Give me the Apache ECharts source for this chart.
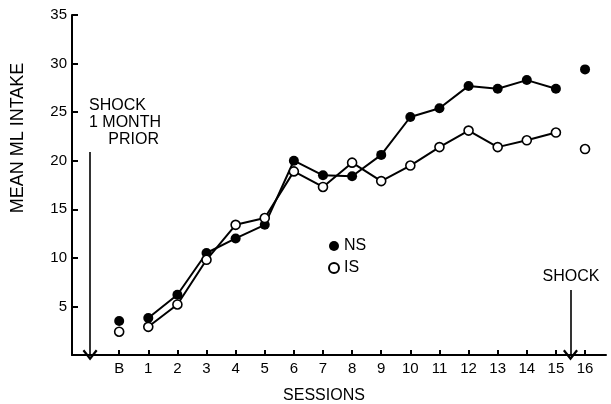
<!DOCTYPE html>
<html>
<head>
<meta charset="utf-8">
<script src="https://cdn.jsdelivr.net/npm/echarts@6/dist/echarts.min.js"></script>
<style>html,body{margin:0;padding:0;background:#fff}#c{width:611px;height:404px}</style>
</head>
<body>
<div id="c"></div>
<script>
// Session positions: 0 = baseline "B", 1..16 = sessions
var sessions = [0, 1, 2, 3, 4, 5, 6, 7, 8, 9, 10, 11, 12, 13, 14, 15, 16];
var sessionLabels = ['B', '1', '2', '3', '4', '5', '6', '7', '8', '9', '10', '11', '12', '13', '14', '15', '16'];
var nsValues = [3.5, 3.8, 6.2, 10.5, 12.0, 13.4, 20.0, 18.5, 18.4, 20.6, 24.5, 25.4, 27.7, 27.4, 28.3, 27.4, 29.4];
var isValues = [2.4, 2.9, 5.2, 9.8, 13.4, 14.1, 18.9, 17.3, 19.8, 17.9, 19.5, 21.4, 23.1, 21.4, 22.1, 22.9, 21.2];
var yTicks = [0, 5, 10, 15, 20, 25, 30, 35];
// annotation arrows: [x position, top value]
var shockPrior = [-1, 20.9];
var shockAfter = [15.5, 6.7];

// Baseline (B) and session 16 are unconnected points: break the line around them
function buildData(vals) {
  var out = [];
  for (var i = 0; i < sessions.length; i++) {
    if (i === 1) out.push([0.5, '-']);
    if (i === 16) out.push([15.5, '-']);
    out.push([sessions[i], vals[i]]);
  }
  return out;
}

var FONT = '"Liberation Sans", Arial, sans-serif';
var chevron = 'path://M6,0 L12,7 L10.6,8.2 L6,2.8 L1.4,8.2 L0,7 Z';

var chart = echarts.init(document.getElementById('c'), null, {renderer: 'canvas'});
chart.setOption({
  animation: false,
  backgroundColor: '#fff',
  grid: {left: 72, right: 5, top: 15, bottom: 49, containLabel: false},
  xAxis: {
    type: 'value', min: -1.62, max: 16.72,
    axisLine: {show: true, onZero: false, lineStyle: {color: '#000', width: 2}},
    axisTick: {show: true, inside: true, length: 5, customValues: sessions, lineStyle: {color: '#000', width: 2}},
    axisLabel: {show: true, customValues: sessions, margin: 6, color: '#000', fontSize: 15, fontFamily: FONT,
      formatter: function (v) { var i = sessions.indexOf(Math.round(v)); return i >= 0 ? sessionLabels[i] : ''; }},
    splitLine: {show: false}
  },
  yAxis: {
    type: 'value', min: yTicks[0], max: yTicks[yTicks.length - 1], interval: 5,
    axisLine: {show: true, onZero: false, lineStyle: {color: '#000', width: 2}},
    axisTick: {show: true, inside: true, length: 6, lineStyle: {color: '#000', width: 2}},
    axisLabel: {show: true, showMinLabel: false, margin: 5, color: '#000', fontSize: 15, fontFamily: FONT},
    splitLine: {show: false}
  },
  legend: {
    orient: 'vertical', left: 323, top: 233, itemWidth: 10, itemHeight: 10, itemGap: 6,
    textStyle: {color: '#000', fontSize: 16, fontFamily: FONT},
    data: [{name: 'NS', icon: 'circle'}, {name: 'IS', icon: 'circle'}]
  },
  series: [
    {
      name: 'NS', type: 'line', data: buildData(nsValues), connectNulls: false,
      symbol: 'circle', symbolSize: 10, showSymbol: true, z: 3,
      itemStyle: {color: '#000', borderColor: '#000', borderWidth: 0},
      lineStyle: {color: '#000', width: 2},
      markLine: {
        silent: true, symbol: ['none', chevron], symbolSize: [15, 11],
        lineStyle: {color: '#000', width: 1.6, type: 'solid'},
        label: {show: false},
        data: [
          [{coord: [shockPrior[0], shockPrior[1]]}, {coord: [shockPrior[0], 0]}],
          [{coord: [shockAfter[0], shockAfter[1]]}, {coord: [shockAfter[0], 0]}]
        ]
      }
    },
    {
      name: 'IS', type: 'line', data: buildData(isValues), connectNulls: false,
      symbol: 'circle', symbolSize: 9, showSymbol: true, z: 4,
      itemStyle: {color: '#fff', borderColor: '#000', borderWidth: 1.6},
      lineStyle: {color: '#000', width: 2}
    }
  ],
  graphic: [
    {type: 'text', x: 18, y: 138, rotation: Math.PI / 2,
      style: {text: 'MEAN ML INTAKE', fill: '#000', font: '18px ' + FONT, align: 'center', verticalAlign: 'middle'}},
    {type: 'text', x: 324, y: 396,
      style: {text: 'SESSIONS', fill: '#000', font: '16px ' + FONT, align: 'center', verticalAlign: 'middle'}},
    {type: 'text', x: 89, y: 106,
      style: {text: 'SHOCK', fill: '#000', font: '16px ' + FONT, align: 'left', verticalAlign: 'middle'}},
    {type: 'text', x: 89, y: 123,
      style: {text: '1 MONTH', fill: '#000', font: '16px ' + FONT, align: 'left', verticalAlign: 'middle'}},
    {type: 'text', x: 159, y: 140,
      style: {text: 'PRIOR', fill: '#000', font: '16px ' + FONT, align: 'right', verticalAlign: 'middle'}},
    {type: 'text', x: 571, y: 277,
      style: {text: 'SHOCK', fill: '#000', font: '16px ' + FONT, align: 'center', verticalAlign: 'middle'}}
  ]
});
</script>
</body>
</html>
